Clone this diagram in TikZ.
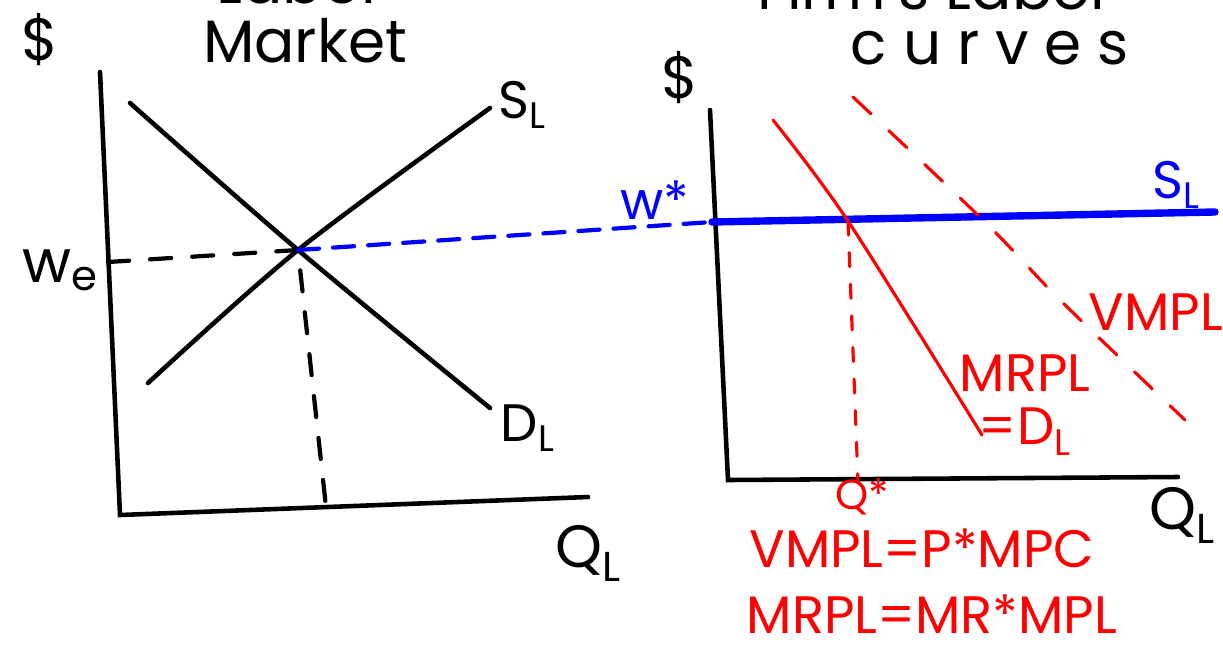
\documentclass[tikz,border=0pt]{standalone}
\usepackage{fontspec}
\setmainfont{Poppins}
\usetikzlibrary{positioning}
\definecolor{InkRed}{RGB}{255,0,0}
\definecolor{InkBlue}{RGB}{0,0,255}

\begin{document}
\begin{tikzpicture}[
    x=0.02cm, y=-0.02cm,
    axis/.style={line width=2.6pt, line cap=round},
    curve/.style={line width=2.6pt, line cap=round},
    guide/.style={line width=2.4pt, line cap=round, dash pattern=on 12pt off 12pt},
    wage/.style={InkBlue, line width=2.4pt, line cap=round, dash pattern=on 12pt off 8pt},
    firm/.style={InkRed, line width=1.8pt, line cap=round},
    hand/.style={inner sep=0pt, font=\fontsize{30}{34}\selectfont},
    big/.style={inner sep=0pt, font=\fontsize{34}{38}\selectfont},
    small/.style={inner sep=0pt, font=\fontsize{24}{28}\selectfont},
]
\useasboundingbox (0,0) rectangle (1223,653);

% left: labour market
\coordinate (ltop) at (100,72);
\coordinate (lorig) at (120,515);
\coordinate (lxend) at (588,497);
\coordinate (eqL) at (298,250);
\coordinate (sLlow) at (148,383);
\coordinate (sLhigh) at (490,108);
\coordinate (dLhigh) at (130,103);
\coordinate (dLlow) at (490,408);
\coordinate (weTick) at (108,262);
\coordinate (qeFoot) at (326,507);

\draw[axis] (ltop) -- (lorig) -- (lxend);
\draw[curve] plot[smooth] coordinates {(sLlow) (eqL) (sLhigh)};
\draw[curve] plot[smooth] coordinates {(dLhigh) (eqL) (dLlow)};
\draw[guide] (weTick) -- (eqL) -- (qeFoot);

\node[big] (dolL) at (40,40) {\$};
\node[big, anchor=base] (mkt) at (305,62) {Market};
\node[big, anchor=base] (lab) at (300,3) {Labor};
\node[big] (we) at (60,270) {w\textsubscript{e}};
\node[hand] (sL) at (522,105) {S\textsubscript{L}};
\node[hand] (dL) at (528,428) {D\textsubscript{L}};
\node[big] (qL) at (588,553) {Q\textsubscript{L}};

% right: firm's curves
\coordinate (rtop) at (710,110);
\coordinate (rorig) at (728,480);
\coordinate (rxend) at (1178,477);
\coordinate (wsL) at (712,222);
\coordinate (wsR) at (1215,212);
\coordinate (mrTop) at (773,120);
\coordinate (eqR) at (848,221);
\coordinate (mrBot) at (982,435);
\coordinate (vmTop) at (853,97);
\coordinate (vmA) at (985,222);
\coordinate (vmB) at (1060,300);
\coordinate (vmBot) at (1185,420);
\coordinate (qsFoot) at (858,482);

\draw[axis] (rtop) -- (rorig) -- (rxend);
\draw[wage] (eqL) -- (wsL);
\draw[InkBlue, line width=4.2pt, line cap=round] (wsL) -- (wsR);
\draw[firm] plot[smooth] coordinates {(mrTop) (eqR) (mrBot)};
\draw[firm, dash pattern=on 14pt off 14pt] plot[smooth] coordinates {(vmTop) (vmA) (vmB) (vmBot)};
\draw[firm, dash pattern=on 8pt off 10pt] (eqR) -- (qsFoot);

\node[big] (dolR) at (680,78) {\$};
\node[big, anchor=base] (crv) at (990,64) {c u r v e s};
\node[big, anchor=base] (firms) at (935,9) {Firm's Labor};
\node[hand, InkBlue] (wst) at (655,200) {w*};
\node[hand, InkBlue] (sLr) at (1176,185) {S\textsubscript{L}};
\node[hand, InkRed] (vmpl) at (1156,312) {VMPL};
\node[hand, InkRed, align=center] (mrpl) at (1025,405) {MRPL\\[-4pt]=D\textsubscript{L}};
\node[small, InkRed] (qst) at (862,497) {Q*};
\node[big] (qLr) at (1182,515) {Q\textsubscript{L}};
\node[hand, InkRed] (eq1) at (922,548) {VMPL=P*MPC};
\node[hand, InkRed] (eq2) at (932,614) {MRPL=MR*MPL};
\end{tikzpicture}
\end{document}
